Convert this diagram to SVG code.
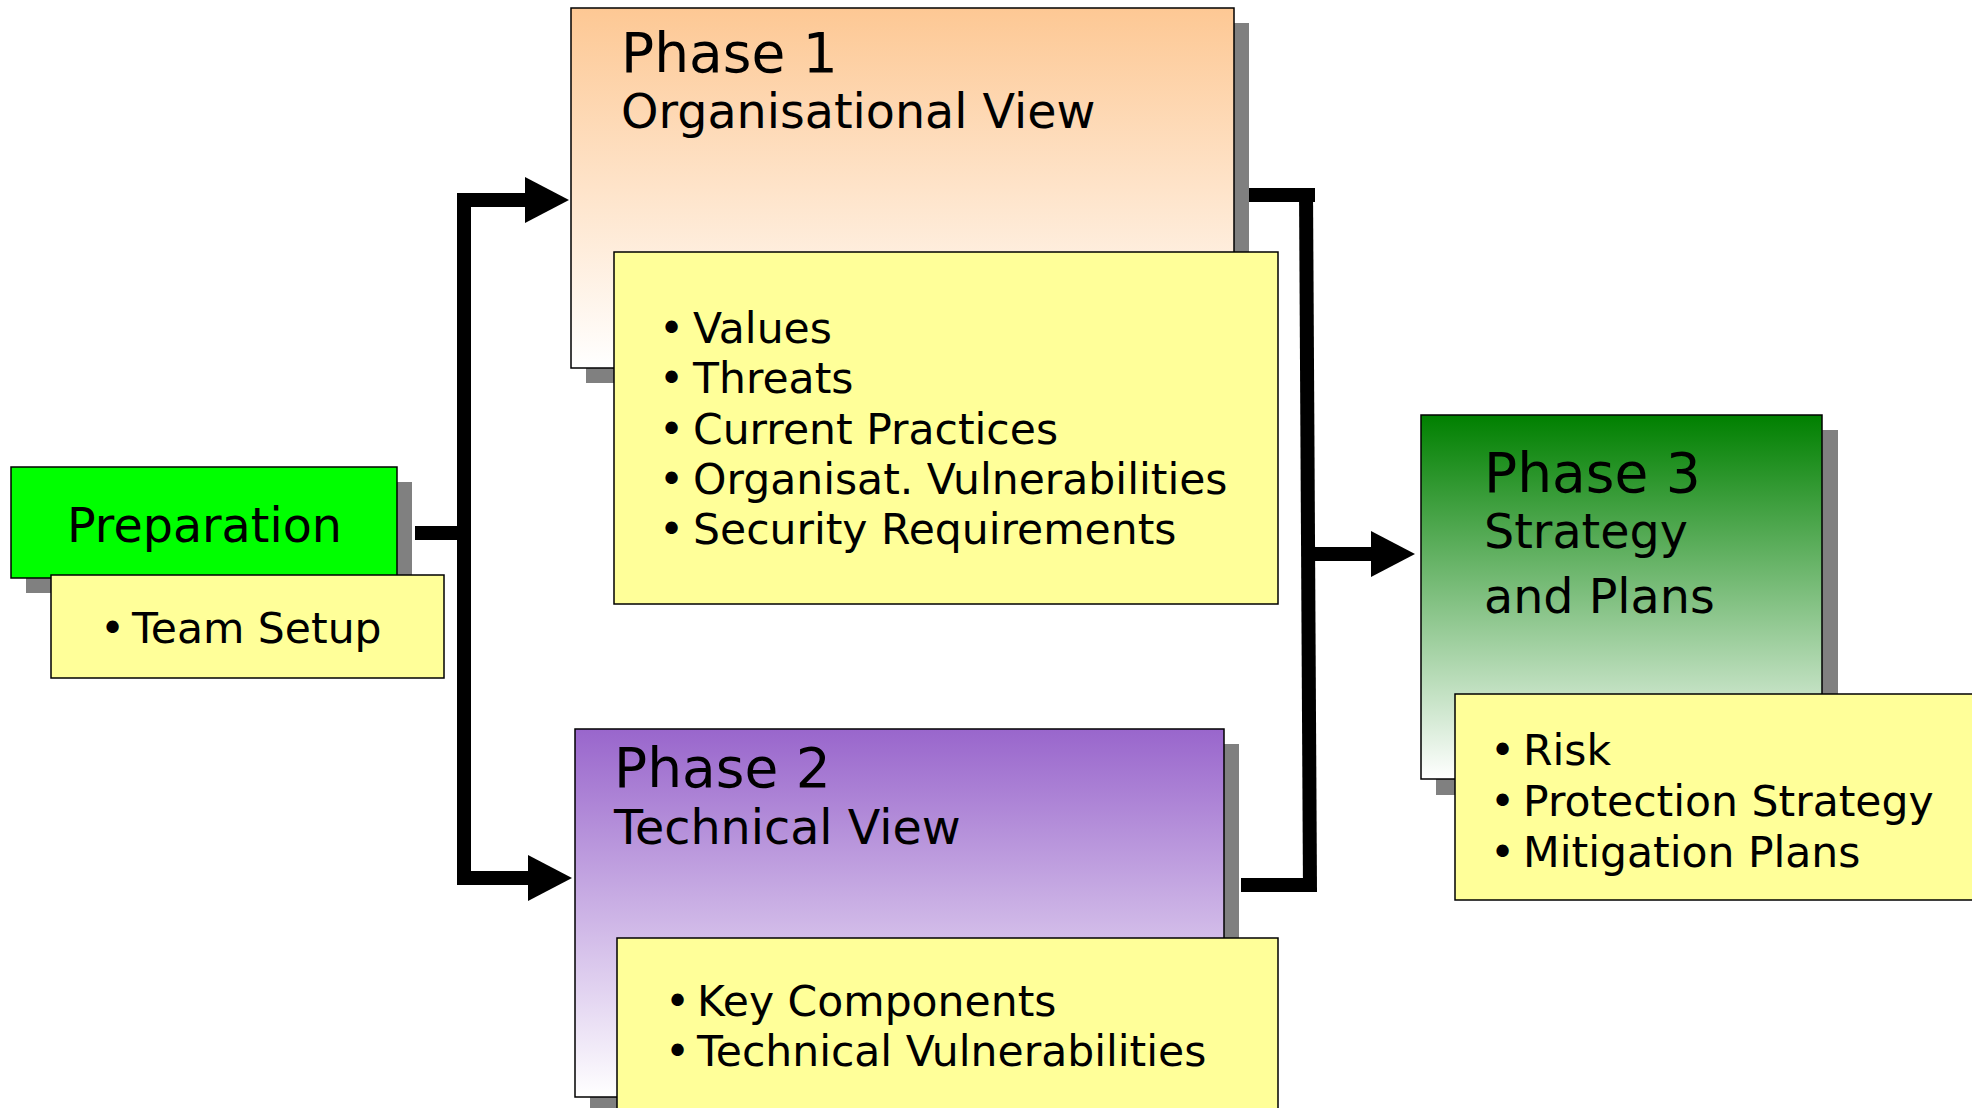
<svg xmlns="http://www.w3.org/2000/svg" width="1972" height="1108" viewBox="0 0 1972 1108">
<style>
text{font-family:"DejaVu Sans",Verdana,"Liberation Sans",sans-serif;fill:#000}
.box{stroke:#000;stroke-width:1.5}
.shadow{fill:#808080}
.note{fill:#FFFF99;stroke:#000;stroke-width:1.5}
.title{font-size:55px}
.sub{font-size:47.6px}
.item{font-size:42.5px}
.conn{fill:none;stroke:#000;stroke-width:14;stroke-linejoin:miter}
</style>
<defs>
<linearGradient id="gPeach" x1="0" y1="0" x2="0" y2="1"><stop offset="0" stop-color="#FDC894"/><stop offset="1" stop-color="#FFFFFF"/></linearGradient>
<linearGradient id="gPurple" x1="0" y1="0" x2="0" y2="1"><stop offset="0" stop-color="#9966CC"/><stop offset="1" stop-color="#FFFFFF"/></linearGradient>
<linearGradient id="gGreen" x1="0" y1="0" x2="0" y2="1"><stop offset="0" stop-color="#008000"/><stop offset="1" stop-color="#FFFFFF"/></linearGradient>
<marker id="arrow" markerUnits="userSpaceOnUse" markerWidth="46" markerHeight="46" refX="0" refY="23" orient="auto"><path d="M0,0 L44,23 L0,46 Z" fill="#000"/></marker>
</defs>

<g id="connectors">
<path class="conn" d="M415,533 L464,533"/>
<path class="conn" d="M464,533 L464,200 L525,200" marker-end="url(#arrow)"/>
<path class="conn" d="M464,533 L464,878 L528,878" marker-end="url(#arrow)"/>
<path class="conn" d="M1249,195 L1315,195"/>
<path class="conn" d="M1306,188 L1310,892"/>
<path class="conn" d="M1241,885 L1316,885"/>
<path class="conn" d="M1309,554 L1371,554" marker-end="url(#arrow)"/>
</g>

<g id="preparation">
<rect class="shadow" x="26" y="482" width="386" height="111"/>
<rect class="box" x="11" y="467" width="386" height="111" fill="#00FF00"/>
<text class="sub" x="67" y="542">Preparation</text>
<rect class="note" x="51" y="575" width="393" height="103"/>
<text class="item" x="100" y="643">•<tspan x="132">Team Setup</tspan></text>
</g>

<g id="phase1">
<rect class="shadow" x="586" y="23" width="663" height="360"/>
<rect class="box" x="571" y="8" width="663" height="360" fill="url(#gPeach)"/>
<text class="title" x="621" y="72">Phase 1</text>
<text class="sub" x="621" y="128">Organisational View</text>
<rect class="note" x="614" y="252" width="664" height="352"/>
<text class="item" x="659" y="343">•<tspan x="693">Values</tspan></text>
<text class="item" x="659" y="393">•<tspan x="693">Threats</tspan></text>
<text class="item" x="659" y="444">•<tspan x="693">Current Practices</tspan></text>
<text class="item" x="659" y="494">•<tspan x="693">Organisat. Vulnerabilities</tspan></text>
<text class="item" x="659" y="544">•<tspan x="693">Security Requirements</tspan></text>
</g>

<g id="phase2">
<rect class="shadow" x="590" y="744" width="649" height="380"/>
<rect class="box" x="575" y="729" width="649" height="368" fill="url(#gPurple)"/>
<text class="title" x="614" y="787">Phase 2</text>
<text class="sub" x="614" y="844">Technical View</text>
<rect class="note" x="617" y="938" width="661" height="190"/>
<text class="item" x="665" y="1016">•<tspan x="697">Key Components</tspan></text>
<text class="item" x="665" y="1066">•<tspan x="697">Technical Vulnerabilities</tspan></text>
</g>

<g id="phase3">
<rect class="shadow" x="1436" y="430" width="402" height="365"/>
<rect class="box" x="1421" y="415" width="401" height="364" fill="url(#gGreen)"/>
<text class="title" x="1484" y="492">Phase 3</text>
<text class="sub" x="1484" y="548">Strategy</text>
<text class="sub" x="1484" y="613">and Plans</text>
<rect class="note" x="1455" y="694" width="540" height="206"/>
<text class="item" x="1490" y="765">•<tspan x="1523">Risk</tspan></text>
<text class="item" x="1490" y="816">•<tspan x="1523">Protection Strategy</tspan></text>
<text class="item" x="1490" y="867">•<tspan x="1523">Mitigation Plans</tspan></text>
</g>
</svg>
